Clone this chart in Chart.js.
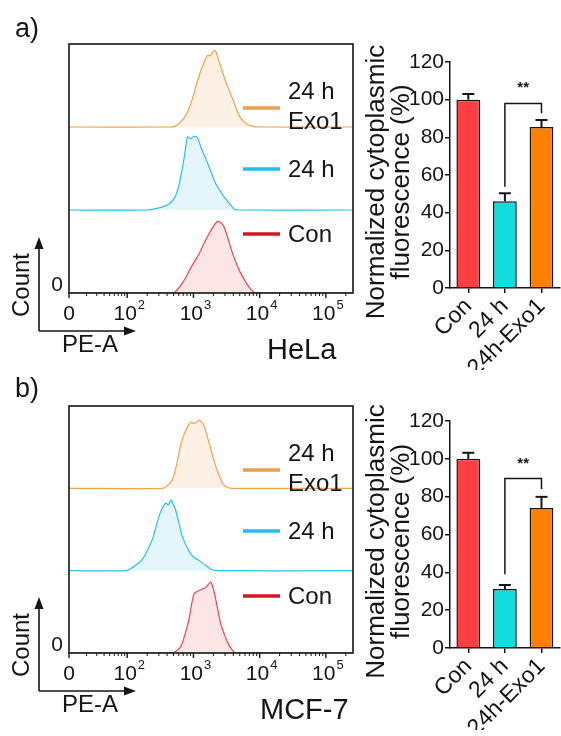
<!DOCTYPE html>
<html>
<head>
<meta charset="utf-8">
<script src="https://cdn.jsdelivr.net/npm/chart.js@4.4.1/dist/chart.umd.min.js"></script>
<style>
  body { margin: 0; background: #fff; }
  #fig { position: relative; width: 561px; height: 736px; overflow: hidden; background: #fff; }
  #fig canvas { position: absolute; }
</style>
</head>
<body>
<div id="fig">
  <canvas id="histA" width="360" height="365" style="left:0;top:0;width:360px;height:365px"></canvas>
  <canvas id="barA" width="221" height="350" style="left:340px;top:20px;width:221px;height:350px"></canvas>
  <canvas id="histB" width="360" height="365" style="left:0;top:362px;width:360px;height:365px"></canvas>
  <canvas id="barB" width="221" height="350" style="left:340px;top:380px;width:221px;height:350px"></canvas>
</div>
<script>
// ---------- datos ----------
// histogramas: x en décadas (posición en el eje PE-A), y = fracción de la altura de cada pista
const helaConX = [1.12, 2.70, 2.73, 2.80, 2.88, 2.93, 3.00, 3.09, 3.16, 3.24, 3.30, 3.36, 3.41, 3.46, 3.52, 3.59, 3.66, 3.74, 3.84, 3.94, 5.41];
const helaConY = [0, 0, 0.02, 0.08, 0.18, 0.26, 0.36, 0.48, 0.60, 0.72, 0.80, 0.86, 0.85, 0.80, 0.66, 0.48, 0.33, 0.20, 0.07, 0, 0];
const hela24X  = [1.12, 2.30, 2.45, 2.58, 2.66, 2.73, 2.78, 2.82, 2.87, 2.91, 2.96, 3.01, 3.06, 3.12, 3.19, 3.27, 3.34, 3.42, 3.49, 3.56, 3.62, 3.69, 5.41];
const hela24Y  = [0, 0, 0.02, 0.05, 0.09, 0.17, 0.30, 0.45, 0.68, 0.88, 0.86, 0.89, 0.87, 0.74, 0.61, 0.45, 0.31, 0.21, 0.13, 0.06, 0.01, 0, 0];
const helaExoX = [1.12, 2.66, 2.72, 2.78, 2.85, 2.91, 2.98, 3.04, 3.10, 3.14, 3.21, 3.26, 3.29, 3.33, 3.39, 3.44, 3.49, 3.54, 3.59, 3.69, 3.78, 3.88, 3.99, 5.41];
const helaExoY = [0, 0, 0.01, 0.04, 0.10, 0.18, 0.33, 0.50, 0.65, 0.74, 0.86, 0.86, 0.90, 0.92, 0.78, 0.66, 0.54, 0.44, 0.34, 0.14, 0.05, 0.01, 0, 0];

const mcfConX = [1.12, 2.68, 2.75, 2.81, 2.87, 2.93, 2.97, 3.01, 3.09, 3.19, 3.26, 3.30, 3.34, 3.41, 3.47, 3.52, 3.58, 3.64, 5.41];
const mcfConY = [0, 0, 0.03, 0.08, 0.22, 0.40, 0.58, 0.72, 0.76, 0.80, 0.86, 0.78, 0.64, 0.36, 0.22, 0.12, 0.04, 0, 0];
const mcf24X  = [1.12, 1.97, 2.08, 2.15, 2.23, 2.30, 2.38, 2.43, 2.48, 2.53, 2.58, 2.62, 2.66, 2.70, 2.73, 2.78, 2.83, 2.93, 3.01, 3.09, 3.19, 3.26, 3.34, 5.41];
const mcf24Y  = [0, 0, 0.04, 0.08, 0.14, 0.24, 0.38, 0.52, 0.66, 0.76, 0.82, 0.80, 0.86, 0.80, 0.74, 0.58, 0.42, 0.24, 0.16, 0.12, 0.06, 0.02, 0, 0];
const mcfExoX = [1.12, 2.53, 2.60, 2.68, 2.75, 2.81, 2.88, 2.96, 3.02, 3.09, 3.16, 3.24, 3.29, 3.34, 3.44, 3.52, 3.59, 5.41];
const mcfExoY = [0, 0, 0.03, 0.10, 0.30, 0.54, 0.70, 0.80, 0.79, 0.83, 0.76, 0.54, 0.40, 0.26, 0.06, 0.01, 0, 0];

// eje PE-A: posiciones de las marcas y sus etiquetas (base + exponente)
const peTickVals = [1.12, 2, 3, 4, 5];
const peTickBase = ['0', '10', '10', '10', '10'];
const peTickExp  = ['', '2', '3', '4', '5'];

// barras: fluorescencia citoplasmática normalizada (%)
const groups    = ['Con', '24 h', '24h-Exo1'];
const helaMeans = [100, 46, 85.5];
const helaErr   = [3, 4.3, 3.7];
const mcfMeans  = [100, 31.2, 74];
const mcfErr    = [3.2, 2.1, 5.9];
// corchete de significancia: [altura, pie izq, pie der, altura de "**"]
const helaSig = [98, 53.8, 92.8, 107.8];
const mcfSig  = [89.6, 39, 84, 98.7];

// ---------- estilos ----------
const FONT = '"Liberation Sans", Arial, sans-serif';
const INK = '#151515';
const TRACKS = [
  { name: 'Con',  line: '#f0434b', fill: 'rgba(244,160,160,0.28)', key: '#d4161f', offset: 0 },
  { name: '24 h', line: '#2bc0ea', fill: 'rgba(150,216,242,0.25)', key: '#1fbfee', offset: 1 },
  { name: 'Exo1', line: '#f3a24e', fill: 'rgba(248,196,146,0.25)', key: '#e9a04e', offset: 2 }
];
const BAR_COLORS = ['#fd3f44', '#12dcdc', '#ff8000'];

// ---------- utilidades de dibujo ----------
function seg(ctx, x1, y1, x2, y2) {
  ctx.beginPath(); ctx.moveTo(x1, y1); ctx.lineTo(x2, y2); ctx.stroke();
}
function tri(ctx, pts) {
  ctx.beginPath(); ctx.moveTo(pts[0], pts[1]); ctx.lineTo(pts[2], pts[3]); ctx.lineTo(pts[4], pts[5]); ctx.closePath(); ctx.fill();
}

// marcas menores del eje logarítmico
function minorTicks() {
  const out = [];
  for (let k = 2; k <= 9; k++) out.push(1.12 + 0.88 * Math.log10(k));
  for (let d = 2; d <= 4; d++) for (let k = 2; k <= 9; k++) out.push(d + Math.log10(k));
  out.push(5 + Math.log10(2));
  return out;
}

// caja, eje PE-A, leyenda y rótulos del histograma
const histDecor = {
  id: 'histDecor',
  afterDraw(chart, args, o) {
    const { ctx, chartArea: a, scales: { x } } = chart;
    ctx.save();
    ctx.strokeStyle = INK; ctx.fillStyle = INK;
    ctx.lineWidth = 1.6;
    ctx.strokeRect(a.left, a.top, a.right - a.left, a.bottom - a.top);

    ctx.lineWidth = 1;
    minorTicks().forEach(v => { const px = x.getPixelForValue(v); seg(ctx, px, a.bottom, px, a.bottom + 3); });
    ctx.lineWidth = 1.4;
    peTickVals.forEach(v => { const px = x.getPixelForValue(v); seg(ctx, px, a.bottom, px, a.bottom + 5); });

    // etiquetas 0, 10², 10³...
    ctx.textBaseline = 'alphabetic';
    peTickVals.forEach((v, i) => {
      const px = x.getPixelForValue(v);
      ctx.font = '21px ' + FONT;
      const wb = ctx.measureText(peTickBase[i]).width;
      ctx.font = '13px ' + FONT;
      const we = peTickExp[i] ? ctx.measureText(peTickExp[i]).width + 1 : 0;
      const x0 = px - (wb + we) / 2 + (we ? 2 : 0);
      ctx.font = '21px ' + FONT;
      ctx.textAlign = 'left';
      ctx.fillText(peTickBase[i], x0, a.bottom + 27);
      if (we) { ctx.font = '13px ' + FONT; ctx.fillText(peTickExp[i], x0 + wb + 1, a.bottom + 16); }
    });

    // "0" del eje de cuentas
    ctx.font = '21px ' + FONT; ctx.textAlign = 'center'; ctx.textBaseline = 'middle';
    ctx.fillText('0', 57, a.bottom - 8);

    // leyenda
    const rows = [[64, 2], [125, 1], [190, 0]];
    ctx.lineWidth = 3.5;
    rows.forEach(([dy, t]) => {
      ctx.strokeStyle = TRACKS[t].key;
      seg(ctx, 243, a.top + dy, 280, a.top + dy);
    });
    ctx.font = '24px ' + FONT; ctx.textAlign = 'left'; ctx.textBaseline = 'middle';
    ctx.fillText('24 h', 288, a.top + 48);
    ctx.fillText('Exo1', 288, a.top + 78);
    ctx.fillText('24 h', 288, a.top + 126);
    ctx.fillText('Con', 288, a.top + 191);

    // flechas Count / PE-A
    ctx.strokeStyle = INK; ctx.lineWidth = 1.6;
    const ax = 39, ay = a.bottom + 38;
    seg(ctx, ax, ay, ax, a.bottom - 47);
    seg(ctx, ax, ay, 127, ay);
    tri(ctx, [ax, a.bottom - 56, ax - 4.5, a.bottom - 44, ax + 4.5, a.bottom - 44]);
    tri(ctx, [136, ay, 124, ay - 4.5, 124, ay + 4.5]);

    ctx.font = '24px ' + FONT;
    ctx.save();
    ctx.translate(22, a.bottom - 8); ctx.rotate(-Math.PI / 2);
    ctx.textAlign = 'center'; ctx.fillText('Count', 0, 0);
    ctx.restore();
    ctx.textAlign = 'left';
    ctx.fillText('PE-A', 62, a.bottom + 52);

    ctx.font = '29px ' + FONT;
    ctx.fillText(o.cell, o.cellX, a.bottom + 58);
    ctx.font = '27px ' + FONT;
    ctx.fillText(o.tag, 15, o.tagY);
    ctx.restore();
  }
};

function histChart(id, xs, ys, cell, cellX, tag, tagY, xH) {
  const datasets = TRACKS.map((t, i) => ({
    data: xs[i].map((x, j) => ({ x, y: ys[i][j] + t.offset })),
    borderColor: t.line,
    backgroundColor: t.fill,
    fill: { value: t.offset },
    borderWidth: 1.2,
    pointRadius: 0,
    tension: 0.25
  }));
  return new Chart(document.getElementById(id), {
    type: 'line',
    data: { datasets },
    options: {
      responsive: false,
      animation: false,
      layout: { padding: { top: 44, right: 7, left: 0, bottom: 0 } },
      plugins: {
        legend: { display: false },
        tooltip: { enabled: false },
        histDecor: { cell, cellX, tag, tagY }
      },
      scales: {
        x: {
          type: 'linear', min: 1.12, max: 5.41,
          ticks: { display: false }, grid: { display: false }, border: { display: false },
          afterFit: s => { s.height = xH; }
        },
        y: {
          min: 0, max: 3,
          ticks: { display: false }, grid: { display: false }, border: { display: false },
          afterFit: s => { s.width = 69; }
        }
      }
    },
    plugins: [histDecor]
  });
}

// barras de error, corchete de significancia y título del eje Y
const barDecor = {
  id: 'barDecor',
  afterDatasetsDraw(chart, args, o) {
    const { ctx, scales: { x, y } } = chart;
    const meta = chart.getDatasetMeta(0);
    ctx.save();
    ctx.strokeStyle = INK; ctx.fillStyle = INK; ctx.lineWidth = 2;
    o.means.forEach((m, i) => {
      const cx = meta.data[i].x;
      const yTop = y.getPixelForValue(m + o.errs[i]);
      seg(ctx, cx, y.getPixelForValue(m), cx, yTop);
      seg(ctx, cx - 6, yTop, cx + 6, yTop);
    });

    const [h, l, r, star] = o.sig;
    const x1 = x.getPixelForValue(1), x2 = x.getPixelForValue(2);
    ctx.lineWidth = 1.5;
    ctx.beginPath();
    ctx.moveTo(x1, y.getPixelForValue(l));
    ctx.lineTo(x1, y.getPixelForValue(h));
    ctx.lineTo(x2, y.getPixelForValue(h));
    ctx.lineTo(x2, y.getPixelForValue(r));
    ctx.stroke();
    ctx.font = 'bold 15px ' + FONT; ctx.textAlign = 'center'; ctx.textBaseline = 'middle';
    ctx.fillText('**', (x1 + x2) / 2, y.getPixelForValue(star) + 3);

    // título del eje Y en dos líneas
    const cy = (chart.chartArea.top + chart.chartArea.bottom) / 2 + 7;
    ctx.font = '26px ' + FONT;
    ctx.save();
    ctx.translate(37, cy); ctx.rotate(-Math.PI / 2);
    ctx.fillText('Normalized cytoplasmic', 0, 0);
    ctx.fillText('fluorescence (%)', 0, 25);
    ctx.restore();
    ctx.restore();
  }
};

function barChart(id, means, errs, sig, top) {
  return new Chart(document.getElementById(id), {
    type: 'bar',
    data: {
      labels: groups,
      datasets: [{
        data: means,
        backgroundColor: BAR_COLORS,
        borderColor: INK,
        borderWidth: 1.5,
        barPercentage: 0.65,
        categoryPercentage: 1
      }]
    },
    options: {
      responsive: false,
      animation: false,
      layout: { padding: { top, right: 0, left: 0, bottom: 0 } },
      plugins: {
        legend: { display: false },
        tooltip: { enabled: false },
        barDecor: { means, errs, sig }
      },
      scales: {
        x: {
          grid: { drawOnChartArea: false, offset: false, tickLength: 5, color: INK, lineWidth: 1.5 },
          border: { color: INK, width: 1.5 },
          ticks: { color: INK, font: { size: 23, family: FONT }, minRotation: 45, maxRotation: 45, autoSkip: false, padding: 0 },
          afterFit: s => { s.height = 82; }
        },
        y: {
          min: 0, max: 120,
          grid: { drawOnChartArea: false, tickLength: 5, color: INK, lineWidth: 1.5 },
          border: { color: INK, width: 1.5 },
          ticks: { stepSize: 20, color: INK, font: { size: 21, family: FONT }, padding: 1 },
          afterFit: s => { s.width = 110; }
        }
      }
    },
    plugins: [barDecor]
  });
}

// ---------- arranque ----------
histChart('histA', [helaConX, hela24X, helaExoX], [helaConY, hela24Y, helaExoY], 'HeLa', 267, 'a)', 30, 72);
histChart('histB', [mcfConX, mcf24X, mcfExoX], [mcfConY, mcf24Y, mcfExoY], 'MCF-7', 260, 'b)', 28, 74);
barChart('barA', helaMeans, helaErr, helaSig, 42);
barChart('barB', mcfMeans, mcfErr, mcfSig, 41);
</script>
</body>
</html>
